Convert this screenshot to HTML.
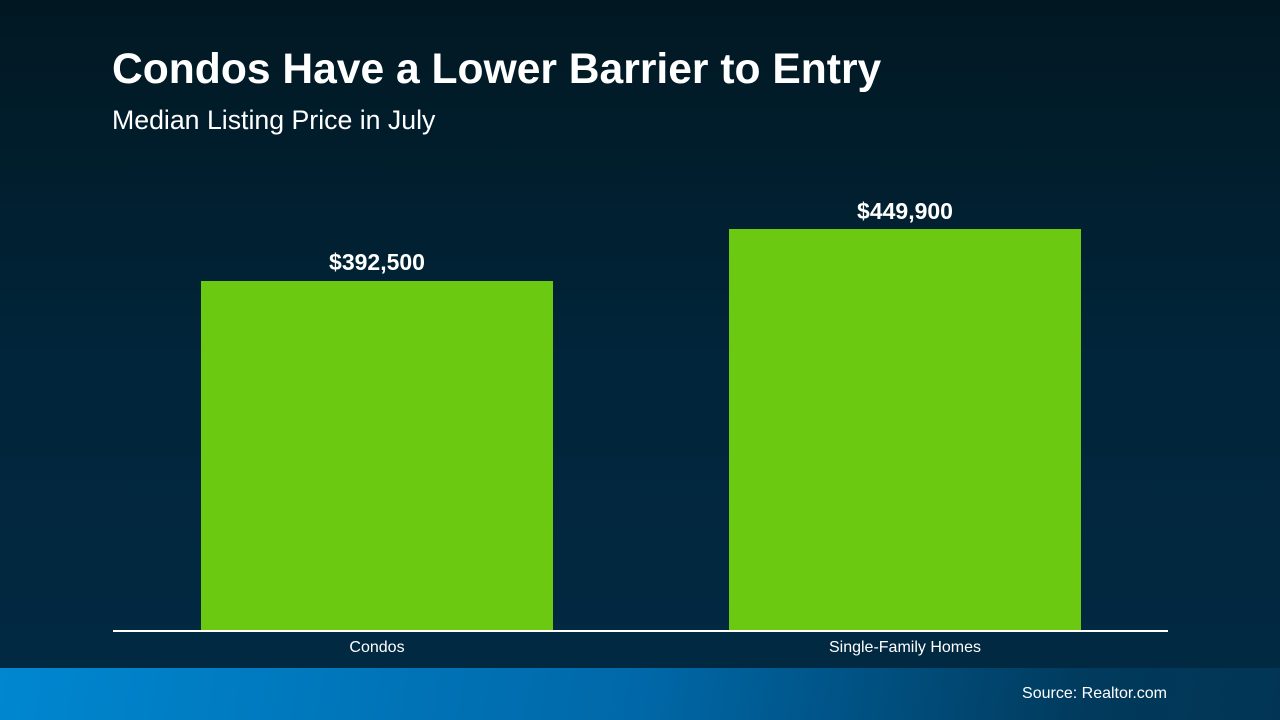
<!DOCTYPE html>
<html><head><style>
body{margin:0;width:1280px;height:720px;overflow:hidden;font-family:"Liberation Sans",sans-serif;color:#fff;position:relative;background:linear-gradient(180deg,#011822 0%,#01253a 50%,#022a44 100%);}
div{position:absolute}
.t{left:112px;top:45px;font-size:42.6px;font-weight:bold;white-space:nowrap}
.s{left:112px;top:105px;font-size:26.7px;white-space:nowrap}
.bar{background:#6cc911}
.v{font-size:23px;font-weight:bold;text-align:center;width:352px}
.l{font-size:16px;text-align:center;width:352px;top:639px}
.foot{left:0;top:668px;width:1280px;height:52px;background:linear-gradient(100deg,#0087d0 0%,#0068a8 50%,#013a5c 85%,#023555 100%)}
</style></head><body>
<div class="t">Condos Have a Lower Barrier to Entry</div>
<div class="s">Median Listing Price in July</div>
<div class="bar" style="left:201px;top:281px;width:352px;height:350px"></div>
<div class="bar" style="left:729px;top:229px;width:352px;height:402px"></div>
<div class="v" style="left:201px;top:249px">$392,500</div>
<div class="v" style="left:729px;top:198px">$449,900</div>
<div style="left:113px;top:630px;width:1055px;height:2px;background:#fff"></div>
<div class="l" style="left:201px">Condos</div>
<div class="l" style="left:729px">Single-Family Homes</div>
<div class="foot"></div>
<div style="right:113px;top:685px;font-size:16px">Source: Realtor.com</div>
</body></html>
